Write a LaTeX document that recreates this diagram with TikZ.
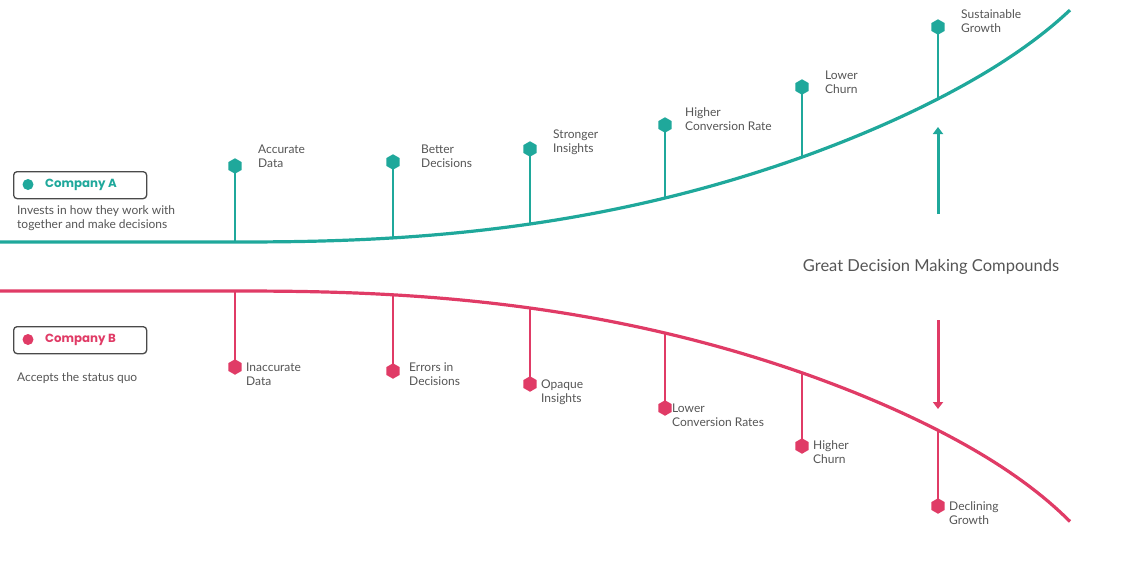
\documentclass[tikz,border=0pt]{standalone}
\usepackage{fontspec}
\setmainfont{Lato}
\newfontfamily\popfont{Poppins}
\usetikzlibrary{shapes.geometric,arrows.meta}
\definecolor{teal1}{HTML}{1FA89B}
\definecolor{pink1}{HTML}{E03B66}
\definecolor{txtgray}{HTML}{555555}
\definecolor{boxgray}{HTML}{4A4A4A}
\tikzset{
  curveline/.style={line width=3.2pt},
  stem/.style={line width=2.8pt},
  hexmark/.style={regular polygon, regular polygon sides=6, shape border rotate=30, minimum size=15.5pt, inner sep=0pt, fill=#1},
  lbl/.style={text=txtgray, font=\fontsize{12}{14}\selectfont, align=left, anchor=west, inner sep=0pt},
  compbox/.style={draw=boxgray, line width=1.3pt, rounded corners=3.5pt, minimum width=133pt, minimum height=27pt, anchor=north west},
  comptitle/.style={font=\popfont\bfseries\fontsize{11.8}{13}\selectfont, anchor=west, inner sep=0pt},
  desc/.style={text=txtgray, font=\fontsize{12}{14}\selectfont, align=left, anchor=north west, inner sep=0pt},
  bigarrow/.style={line width=3pt, -{Triangle[width=10pt,length=7pt]}},
  declare function={
    fA(\x)=242-(18*pow((\x-235)/295,2.37)+20*exp(max(\x-1070,-480)/60));
    fB(\x)=291+(17*pow((\x-235)/295,2.4)+24*exp(max(\x-1070,-480)/60));
  }
}
\begin{document}
\begin{tikzpicture}[x=1pt,y=-1pt]
\useasboundingbox (0,0) rectangle (1138,563);
% curve points
\coordinate (a1) at (235,{fA(235)});
\coordinate (a2) at (393,{fA(393)});
\coordinate (a3) at (530,{fA(530)});
\coordinate (a4) at (665,{fA(665)});
\coordinate (a5) at (802,{fA(802)});
\coordinate (a6) at (938,{fA(938)});
\coordinate (b1) at (235,{fB(235)});
\coordinate (b2) at (393,{fB(393)});
\coordinate (b3) at (530,{fB(530)});
\coordinate (b4) at (665,{fB(665)});
\coordinate (b5) at (802,{fB(802)});
\coordinate (b6) at (938,{fB(938)});
% curves
\draw[curveline, teal1] (0,242) -- plot[domain=235:1070, samples=90, smooth] (\x,{fA(\x)});
\draw[curveline, pink1] (0,291) -- plot[domain=235:1070, samples=90, smooth] (\x,{fB(\x)});
% teal markers
\node[hexmark=teal1] (m1) at (235,166) {};
\node[hexmark=teal1] (m2) at (393,162) {};
\node[hexmark=teal1] (m3) at (530,149) {};
\node[hexmark=teal1] (m4) at (665,125) {};
\node[hexmark=teal1] (m5) at (802,87) {};
\node[hexmark=teal1] (m6) at (938,27) {};
\foreach \i in {1,...,6} \draw[stem, teal1] (m\i.center) -- (a\i);
% pink markers
\node[hexmark=pink1] (n1) at (235,367) {};
\node[hexmark=pink1] (n2) at (393,371) {};
\node[hexmark=pink1] (n3) at (530,384) {};
\node[hexmark=pink1] (n4) at (665,408) {};
\node[hexmark=pink1] (n5) at (802,446) {};
\node[hexmark=pink1] (n6) at (938,506) {};
\foreach \i in {1,...,6} \draw[stem, pink1] (n\i.center) -- (b\i);
% teal labels
\node[lbl] (t1) at (258,156) {Accurate\\Data};
\node[lbl] (t2) at (421,156) {Better\\Decisions};
\node[lbl] (t3) at (553,142) {Stronger\\Insights};
\node[lbl] (t4) at (685,119) {Higher\\Conversion Rate};
\node[lbl] (t5) at (825,82) {Lower\\Churn};
\node[lbl] (t6) at (961,21) {Sustainable\\Growth};
% pink labels
\node[lbl] (u1) at (246,374) {Inaccurate\\Data};
\node[lbl] (u2) at (409,374) {Errors in\\Decisions};
\node[lbl] (u3) at (541,392) {Opaque\\Insights};
\node[lbl] (u4) at (672,415) {Lower\\Conversion Rates};
\node[lbl] (u5) at (813,452) {Higher\\Churn};
\node[lbl] (u6) at (949,513) {Declining\\Growth};
% company boxes
\node[compbox] (boxA) at (13,171) {};
\node[circle, fill=teal1, minimum size=11pt, inner sep=0pt] (dotA) at (28,184.5) {};
\node[comptitle, text=teal1] (titA) at (45,184.5) {Company A};
\node[desc] (descA) at (17,205) {Invests in how they work with\\together and make decisions};
\node[compbox] (boxB) at (13,326) {};
\node[circle, fill=pink1, minimum size=11pt, inner sep=0pt] (dotB) at (28,339.5) {};
\node[comptitle, text=pink1] (titB) at (45,339.5) {Company B};
\node[desc] (descB) at (17,372) {Accepts the status quo};
% central text and arrows
\node[text=txtgray, font=\fontsize{16.5}{19}\selectfont, inner sep=0pt] (gdm) at (931,267) {Great Decision Making Compounds};
\coordinate (upS) at (938,214);
\coordinate (upE) at (938,127);
\coordinate (dnS) at (938,320);
\coordinate (dnE) at (938,409);
\draw[bigarrow, teal1] (upS) -- (upE);
\draw[bigarrow, pink1] (dnS) -- (dnE);
\end{tikzpicture}
\end{document}
